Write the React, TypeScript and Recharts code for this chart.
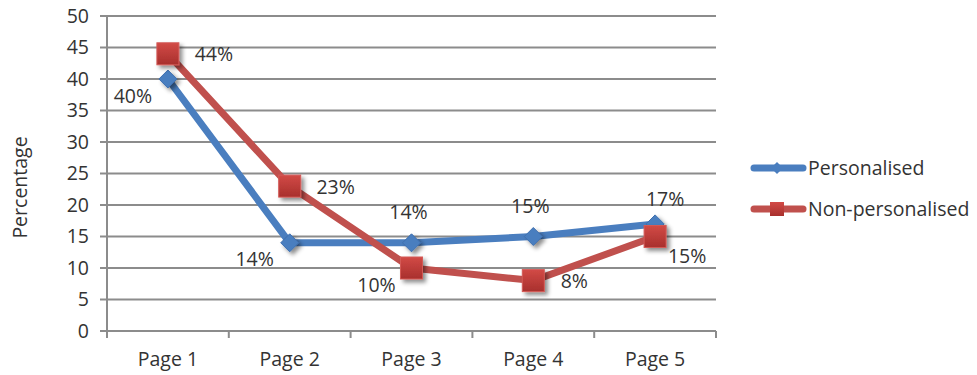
import React from "react";
import { LineChart, Line, XAxis, YAxis, CartesianGrid, LabelList } from "recharts";

const PAGES = ["Page 1", "Page 2", "Page 3", "Page 4", "Page 5"];
const PERSONALISED = [40, 14, 14, 15, 17];
const NON_PERSONALISED = [44, 23, 10, 8, 15];
const Y_TICKS = [0, 5, 10, 15, 20, 25, 30, 35, 40, 45, 50];

// where each value label sits relative to its marker
const PERSONALISED_LABEL_SPOT = ["belowLeft", "belowLeft", "above", "above", "aboveRight"];
const NON_PERSONALISED_LABEL_SPOT = ["right", "right", "belowLeft", "rightLow", "belowRight"];

const data = PAGES.map((page, i) => ({
  page,
  personalised: PERSONALISED[i],
  nonPersonalised: NON_PERSONALISED[i],
}));

const W = 977;
const H = 375;
const MARGIN = { top: 16, right: 261, bottom: 0, left: 0 };
const Y_AXIS_W = 107;
const X_AXIS_H = 44;
const PLOT_BOTTOM = H - MARGIN.bottom - X_AXIS_H;
const BAND = (W - Y_AXIS_W - MARGIN.right) / PAGES.length;

const FONT = "'Open Sans', sans-serif";
const FS = 19.5;
const TEXT = "#333333";
const GRID = "#8c8c8c";
const BLUE = "#4a7ebf";
const RED = "#c0504d";

const OFFSETS: Record<string, [number, number]> = {
  right: [46, 0],
  rightLow: [41, 0],
  belowLeft: [-35, 16],
  belowRight: [32, 19],
  above: [-3, -31],
  aboveRight: [10, -25],
};

function makeLabel(spots: string[]) {
  return (props: any) => {
    const { x, y, value, index } = props;
    const [dx, dy] = OFFSETS[spots[index]] ?? [0, -20];
    return (
      <text
        x={x + dx}
        y={y + dy}
        textAnchor="middle"
        dominantBaseline="central"
        fontFamily={FONT}
        fontSize={FS}
        fill={TEXT}
      >
        {value}%
      </text>
    );
  };
}

function Diamond(props: any) {
  const { cx, cy, index } = props;
  const r = 9;
  return (
    <path
      key={`d-${index}`}
      d={`M${cx},${cy - r}L${cx + r},${cy}L${cx},${cy + r}L${cx - r},${cy}Z`}
      fill={BLUE}
      stroke="#3f6fae"
      strokeWidth={1}
      filter="url(#markerShadow)"
    />
  );
}

function Square(props: any) {
  const { cx, cy, index } = props;
  const s = 11;
  return (
    <rect
      key={`s-${index}`}
      x={cx - s}
      y={cy - s}
      width={s * 2}
      height={s * 2}
      fill="url(#redFill)"
      stroke="#d45a57"
      strokeWidth={1}
      filter="url(#markerShadow)"
    />
  );
}

function CategoryTick(props: any) {
  const { x, payload, index } = props;
  const left = x - BAND / 2;
  return (
    <g>
      <line x1={left} y1={PLOT_BOTTOM} x2={left} y2={PLOT_BOTTOM + 7} stroke={GRID} strokeWidth={2} />
      {index === PAGES.length - 1 && (
        <line x1={x + BAND / 2} y1={PLOT_BOTTOM} x2={x + BAND / 2} y2={PLOT_BOTTOM + 7} stroke={GRID} strokeWidth={2} />
      )}
      <text
        x={x}
        y={PLOT_BOTTOM + 27}
        textAnchor="middle"
        dominantBaseline="central"
        fontFamily={FONT}
        fontSize={FS}
        fill={TEXT}
      >
        {payload.value}
      </text>
    </g>
  );
}

function LegendBox() {
  const rows = [
    { name: "Personalised", color: BLUE, marker: "diamond" },
    { name: "Non-personalised", color: RED, marker: "square" },
  ];
  return (
    <div
      style={{
        position: "absolute",
        left: 750,
        top: 147,
        fontFamily: FONT,
        fontSize: FS,
        color: TEXT,
        whiteSpace: "nowrap",
      }}
    >
      {rows.map((r) => (
        <div key={r.name} style={{ display: "flex", alignItems: "center", height: 41 }}>
          <svg width={57} height={20} style={{ marginRight: 1 }}>
            <line x1={4} y1={10} x2={53} y2={10} stroke={r.color} strokeWidth={7} strokeLinecap="round" />
            {r.marker === "diamond" ? (
              <path d="M27,4L33,10L27,16L21,10Z" fill={r.color} />
            ) : (
              <rect x={20} y={3} width={14} height={14} fill="url(#redFill)" />
            )}
          </svg>
          <span>{r.name}</span>
        </div>
      ))}
    </div>
  );
}

export default function App() {
  return (
    <div style={{ position: "absolute", left: 0, top: 0, width: W, height: H, background: "#fff" }}>
      <svg width={0} height={0} style={{ position: "absolute" }}>
        <defs>
          <filter id="markerShadow" x="-50%" y="-50%" width="200%" height="200%">
            <feDropShadow dx={3} dy={3} stdDeviation={2} floodColor="#000" floodOpacity={0.45} />
          </filter>
          <linearGradient id="redFill" x1="0" y1="0" x2="0" y2="1">
            <stop offset="0%" stopColor="#d24a46" />
            <stop offset="100%" stopColor="#a8302d" />
          </linearGradient>
        </defs>
      </svg>
      <LineChart width={W} height={H} data={data} margin={MARGIN}>
        <CartesianGrid vertical={false} stroke={GRID} strokeWidth={2} />
        <XAxis
          dataKey="page"
          height={X_AXIS_H}
          padding={{ left: BAND / 2, right: BAND / 2 }}
          tickLine={false}
          axisLine={{ stroke: GRID, strokeWidth: 2 }}
          tick={<CategoryTick />}
          interval={0}
        />
        <YAxis
          width={Y_AXIS_W}
          domain={[0, 50]}
          ticks={Y_TICKS}
          tickSize={7}
          tickMargin={11}
          axisLine={{ stroke: GRID, strokeWidth: 2 }}
          tickLine={{ stroke: GRID, strokeWidth: 2 }}
          tick={{ fontFamily: FONT, fontSize: FS, fill: TEXT }}
          label={{
            value: "Percentage",
            angle: -90,
            position: "insideLeft",
            offset: 20,
            dy: 14,
            style: { fontFamily: FONT, fontSize: FS, fill: TEXT, textAnchor: "middle" },
          }}
        />
        <Line
          dataKey="personalised"
          name="Personalised"
          stroke={BLUE}
          strokeWidth={7}
          strokeLinejoin="round"
          dot={Diamond}
          activeDot={false}
          isAnimationActive={false}
        >
          <LabelList dataKey="personalised" content={makeLabel(PERSONALISED_LABEL_SPOT)} />
        </Line>
        <Line
          dataKey="nonPersonalised"
          name="Non-personalised"
          stroke={RED}
          strokeWidth={7}
          strokeLinejoin="round"
          dot={Square}
          activeDot={false}
          isAnimationActive={false}
        >
          <LabelList dataKey="nonPersonalised" content={makeLabel(NON_PERSONALISED_LABEL_SPOT)} />
        </Line>
      </LineChart>
      <LegendBox />
    </div>
  );
}
